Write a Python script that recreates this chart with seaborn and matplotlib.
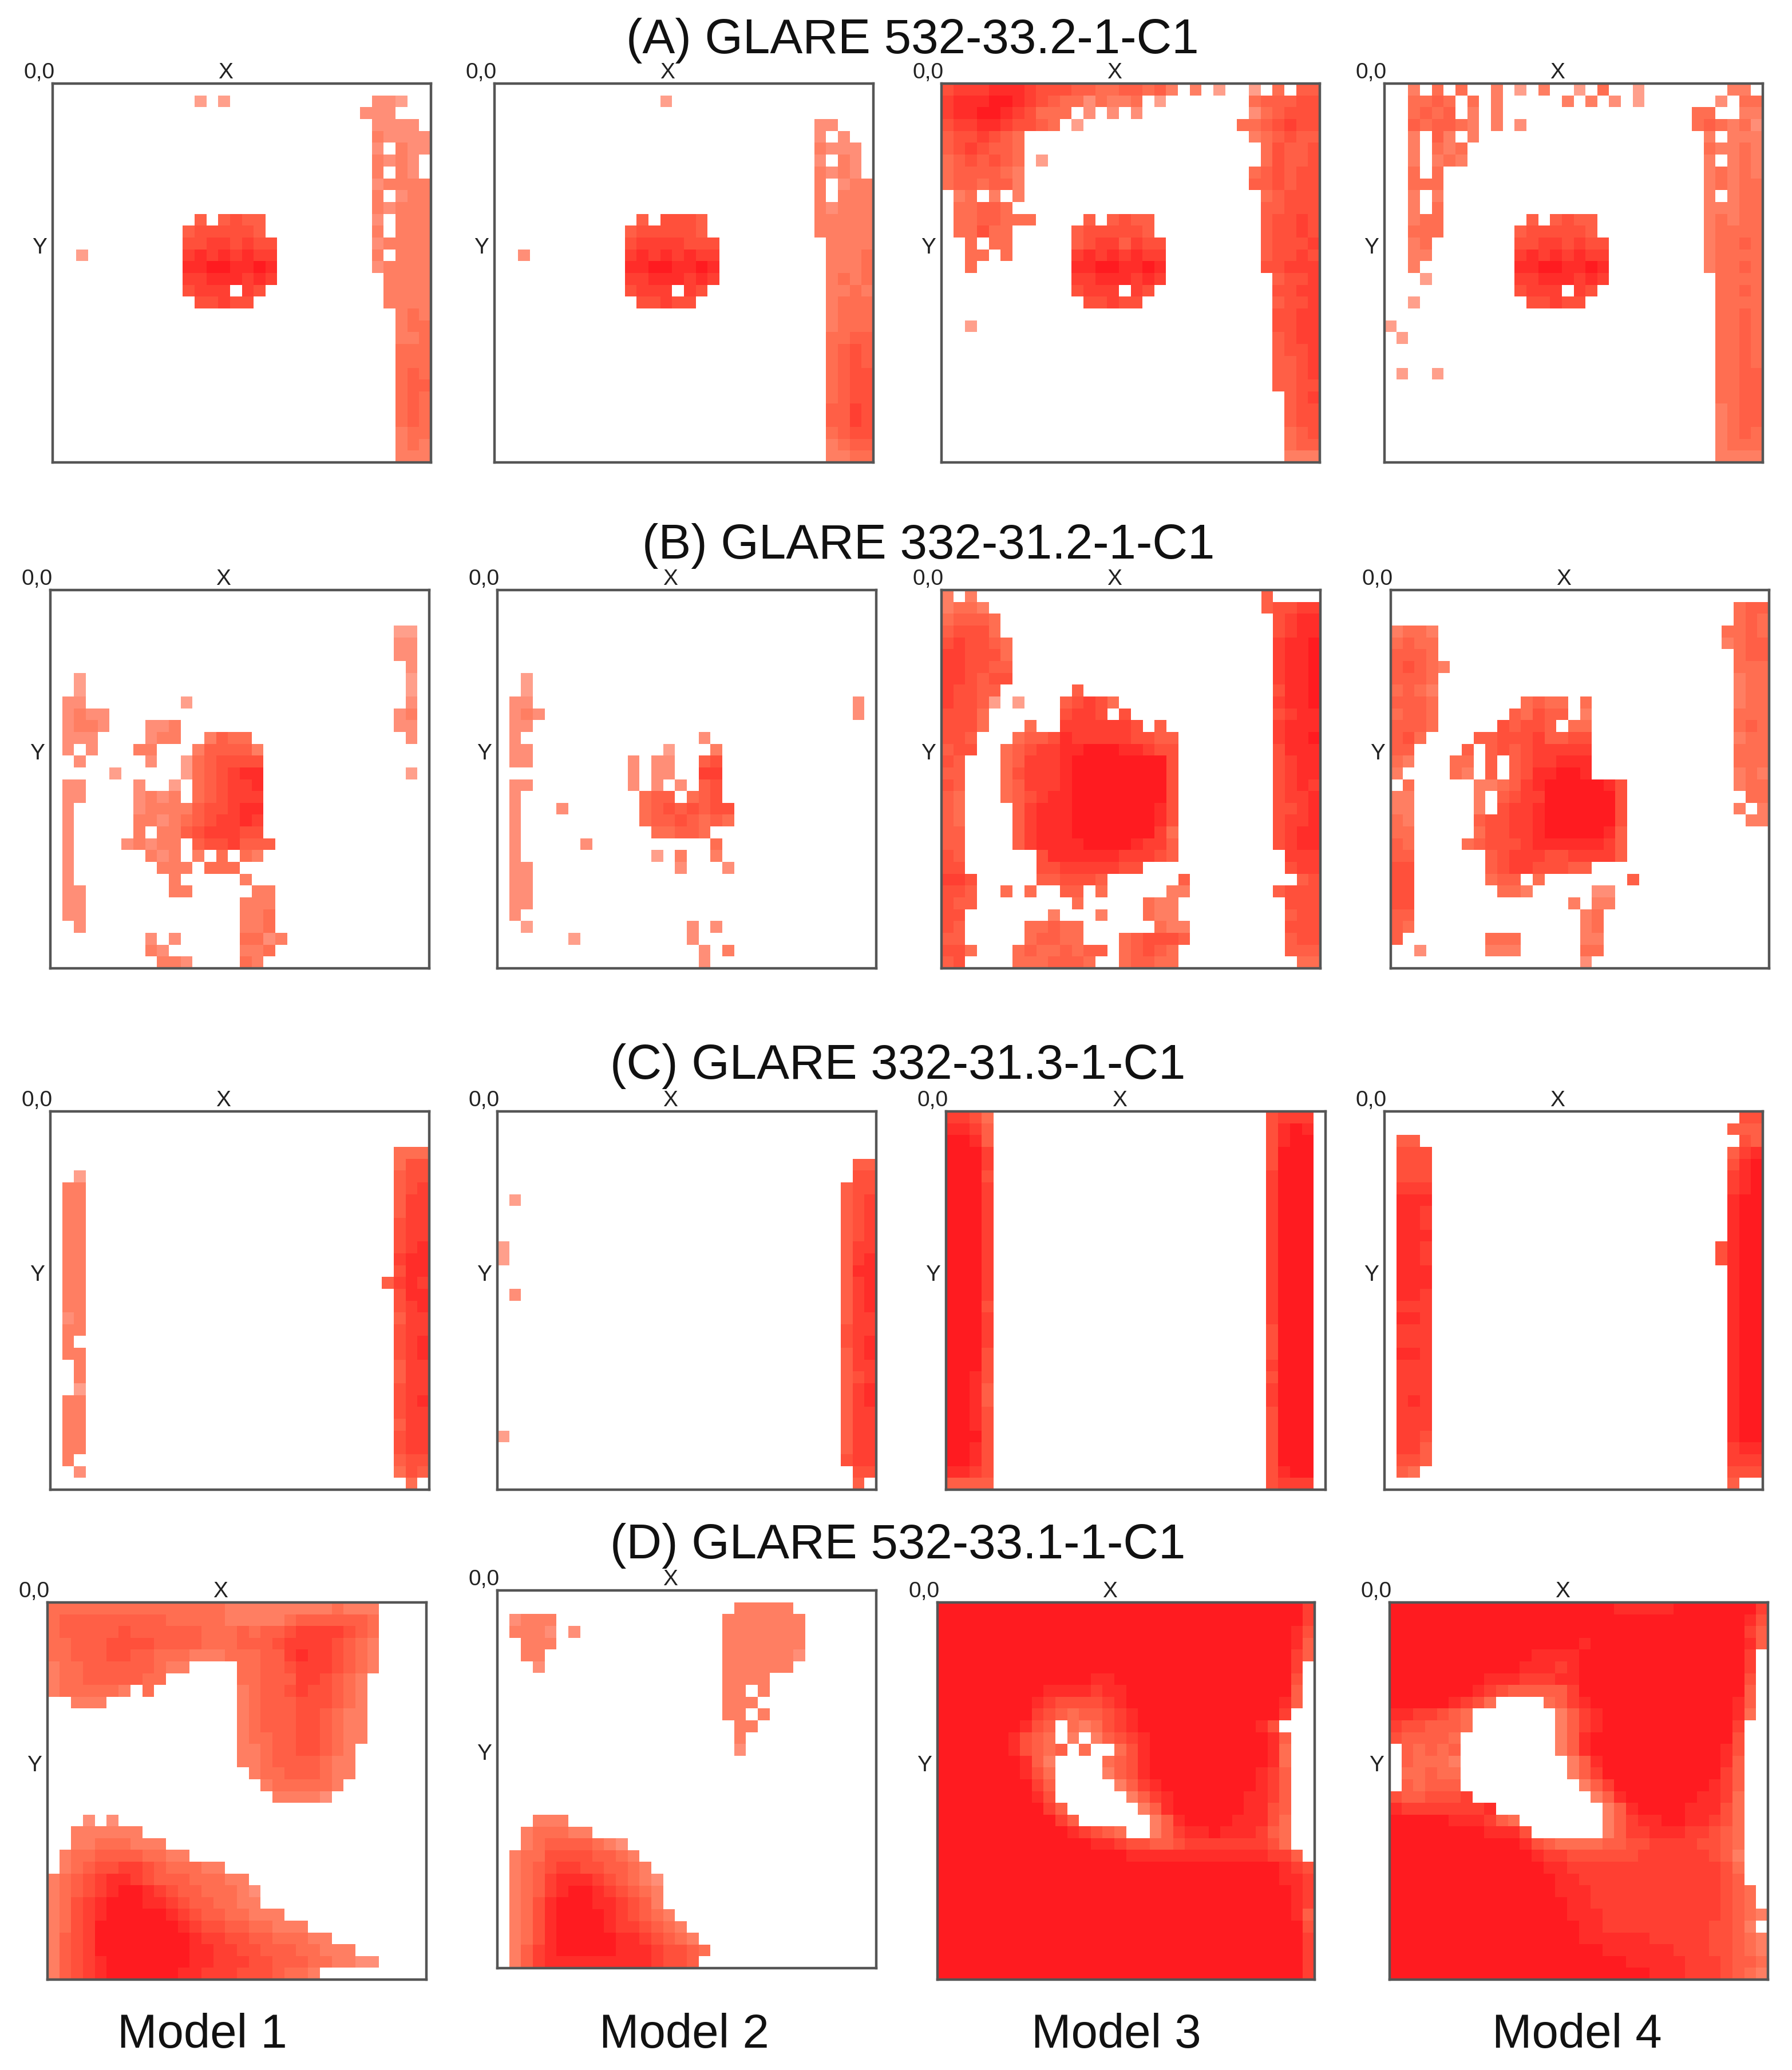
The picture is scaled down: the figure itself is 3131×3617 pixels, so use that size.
import numpy as np
import matplotlib
matplotlib.use("Agg")
import matplotlib.pyplot as plt
from matplotlib.colors import LinearSegmentedColormap
import seaborn as sns

TITLES = ["(A) GLARE 532-33.2-1-C1", "(B) GLARE 332-31.2-1-C1",
          "(C) GLARE 332-31.3-1-C1", "(D) GLARE 532-33.1-1-C1"]
MODELS = ["Model 1", "Model 2", "Model 3", "Model 4"]

A1 = ["",
".......... ..1.1..... .......221",
".......... .......... ......222.",
".......... .......... .......222 2",
".......... .......... .......322 22",
".......... .......... .......2.3 22",
".......... .......... .......323 2",
".......... .......... .......3.3 2",
".......... .......... .......233 33",
".......... .......... .......3.2 33",
".......... .......... .......323 33",
".......... ..5.5655.. .......2.3 33",
".......... .5666665.. .......3.3 33",
".......... .66776766. .......233 33",
"..1....... .78787877. .......3.3 33",
".......... .88998898. .......233 33",
".......... .77888787. ........33 33",
".......... .6777.76.. ........33 33",
".......... ..66766... ........33 33",
".......... .......... .........3 43",
".......... .......... .........3 44",
".......... .......... .........3 34",
".......... .......... .........4 44",
".......... .......... .........4 44",
".......... .......... .........4 54",
".......... .......... .........4 55",
".......... .......... .........4 54",
".......... .......... .........4 54",
".......... .......... .........4 54",
".......... .......... .........3 44",
".......... .......... .........3 43",
".......... .......... .........3 33"]

A2 = ["",
".......... ....1..... ..........",
"",
".......... .......... .......22.",
".......... .......... .......2.2 ",
".......... .......... .......322 2",
".......... .......... .......2.3 2",
".......... .......... .......323 2",
".......... .......... .......3.2 33",
".......... .......... .......3.3 33",
".......... .......... .......323 33",
".......... ..5.6665.. .......333 33",
".......... .5666665.. .......333 33",
".......... .67777666. ........33 33",
"..2....... .78787877. ........33 34",
".......... .88998898. ........33 34",
".......... .77888787. ........34 34",
".......... .6777.76.. ........33 43",
".......... ..66766... ........34 44",
".......... .......... ........34 44",
".......... .......... ........34 44",
".......... .......... ........44 55",
".......... .......... ........45 65",
".......... .......... ........45 65",
".......... .......... ........45 66",
".......... .......... ........45 66",
".......... .......... ........45 66",
".......... .......... ........55 76",
".......... .......... ........55 76",
".......... .......... ........45 66",
".......... .......... ........34 55",
".......... .......... ........33 44"]

A3 = [
"6777888766 6554455453 .3.1..1.4. 5566666666 6",
"7888998765 4424334.1. ......4555 6666666666 6",
"7889987644 4.2.2.2... ......2456 6666666666",
"6778876654 .1........ .....44567 6666665555",
"5667654... .......... ......3456 5555555555",
"5676554... .......... .......465 5666666666",
"4565654.1. .......... .......465 5666666666",
"4555543... .......... ......4565 6666666666",
"4554553... .......... ......5565 6666666666",
".34.3.3... .......... .......456 6666666666",
".44554.... .......... .......556 6666666666",
".4455444.. ..5.5655.. .......566 7666666666",
".44644.... .5666665.. .......566 7666666666",
"..4.44.... .56775766. .......566 6766666666",
"..44.4.... .78787877. .......566 7676666666",
"..4....... .88998898. .......667 7766666666",
".......... .77888787. ........56 6766666666",
".......... .6777.76.. ........66 7766666666",
".......... ..66766... ........56 6776666666",
".......... .......... ........66 7776666666",
"..1....... .......... ........66 7776666666",
".......... .......... ........56 7766666666",
".......... .......... ........56 6766666666",
".......... .......... ........55 6766666666",
".......... .......... ........55 6776666666",
".......... .......... ........55 6676666666",
".......... .......... .........5 6776666666",
".......... .......... .........5 6676666666",
".......... .......... .........5 6666666666",
".......... .......... .........4 5655555555",
".......... .......... .........4 5554444444",
".......... .......... .........3 3333333333"]
A3 = [s.replace(" ", "")[:32] for s in A3]

A4 = [
"..3.4.4..3 .1.3..1.4. .1....... 33",
"..4454.4.3 .....3.3.2 .1......2. 443",
"..4545.3.3 .......... ......44.. 33",
"..545543.3 .2........ ......4543 42",
"..3.53.3.. .......... .......3.3 33",
"..3.434... .......... .......433 43",
"..3.343... .......... .......3.3 43",
"..4.4..... .......... .......343 43",
"..444..... .......... .......343 44",
"..3.3..... .......... .......3.3 44",
"..3.4..... .......... .......333 44",
"..344..... ..5.5655.. .......343 44",
"..444..... .5666665.. .......344 44",
"..34...... .66776766. .......344 54",
"..33...... .78787877. .......344 44",
"..3....... .88998898. .......344 54",
"...1...... .77888787. ........44 44",
".......... .6777.76.. ........44 54",
"..1....... ..66766... ........44 44",
".......... .......... ........44 54",
"1......... .......... ........44 54",
".1........ .......... ........44 54",
".......... .......... ........44 54",
".......... .......... ........44 54",
".1..1..... .......... ........44 55",
".......... .......... ........44 55",
".......... .......... ........44 55",
".......... .......... ........34 55",
".......... .......... ........34 55",
".......... .......... ........34 54",
".......... .......... ........34 44",
".......... .......... ........33 33"]

B1 = ["", "", "",
".......... .......... .........1 1",
".......... .......... .........2 2",
".......... .......... .........2 2",
".......... .......... .......... 2",
"..1....... .......... .......... 1",
"..1....... .......... .......... 1",
".22....... .1........ .......... 2",
".2322..... .......... .........2 3",
".2332...22 3......... .........2 2",
".222....23 3..3544... .......... 2",
".2.2...33. ..355553..",
"..2.....2. .1456666..",
".....1.... .1456788.. .......... 1",
".22....2.. 1.456778..",
".22....232 3.456777..",
".2.....233 33566788..",
".2.....332 34567787..",
".2.....3.3 35677766..",
".2....2323 3.5667555.",
".2......32 3.3.4.43..",
".2.......3 33.444....",
".2........ 3.....3...",
".22....... 33.....33.",
".22....... ......333.",
".22....... ......334.",
"..2....... ......334.",
"........2. 2.....4423",
"........32 ......334.",
".........3 32....43.."]

B2 = ["", "", "", "", "", "", "",
"..1.......",
"..1.......",
".22....... .......... .......... 2",
".232...... .......... .......... 2",
".22.......",
".2........ .......2..",
".22....... ....1...3.",
".22....... .2.22..56.",
".......... .2.22..77.",
".22....... .2.2.2.56.",
".2........ ..455.456.",
".2...2.... ..45656566",
".2........ ..45565454",
".2........ ...44554..",
".2.....2.. ........4.",
".2........ ...1.3..3.",
".22....... .....2...2",
".22.......",
".22.......",
".22.......",
".2........",
"..1....... ......2.2.",
"......1... ......2...",
".......... .......2.3",
".......... .......2.."]

B3 = [
"3.3....... .......... .......5.. ",
"3443...... .......... .......566 7777",
"45554..... .......... ........67 8888",
"56664..... .......... ........67 8888",
"676654.... .......... ........78 8999",
"776664.... .......... ........78 8999",
"776655.... .......... ........78 8999",
"776566.... .......... ........78 8999",
"76655..... .5........ ........68 8989",
"76651.1... 56764..... ........78 8989",
"6664...... 6776.6.... ........67 8888",
"6664...4.. 7777776.5. ........78 8888",
"665...4556 8777776655 ........78 8989",
"566..45677 8899988766 ........68 8888",
"65...45777 8999999996 ........67 8888",
"55...46777 8999999996 ........67 8888",
"65...45777 8999999996 ........67 8787",
"54...45678 8999999996 ........67 7878",
"54....5788 8999999986 ........66 7878",
"54....5788 8999999986 ........67 7878",
"55....5788 8999999974 ........67 8888",
"55....5788 8899998775 ........67 8888",
"65......68 8888877765 .........7 7777",
"66......66 7777766... .........6 7777",
"776.....55 6665...... 5......... 5666",
"665..4.4.. 55.4.....3 3.......5 6666",
"655....... .4.....433 .........6 6666",
"66.......3 ...3...433 .........5 6666",
"65.....445 44......43 3........6 6666",
"55.....455 44...45666 5........5 6666",
"664...4544 5455.45654 .........5 5555",
"56....4445 554..45544 ..........4 444"]

B4 = ["",
".......... .......... .........4 55",
".......... .......... .........4 54",
"3443...... .......... ........44 54",
"4544...... .......... ........34 55",
"5554...... .......... .........4 55",
"56543..... .......... .........4 44",
"5554...... .......... .........3 44",
"4543...... .......... .........3 44",
"5554...... .4544.4... .........3 44",
"4554...... 54655.3... .........4 44",
"5554.....6 5665.44... .........4 54",
"564....556 6675566... .........3 44",
"55....5.56 5677777... .........4 44",
"43...44.5. 5677888... .........4 44",
"3....43.5. 5688998... .........3 43",
".4.....334 5789999986 .........3 44",
"33.....3.5 6779999996 .......... 44",
"33.....3.6 7789999996 .........3 .3",
"43.....566 7789999996 .......... 33",
"44.....466 7789999985",
"54....4566 6788888875",
"55......56 7776677775",
"66......56 7766655...",
"66......45 5.4....... 5",
"66.......4 43.....22",
"66........ .....3.33.",
"55........ ......34..",
"54........ ......34..",
"5.......44 4.....33..",
"..2.....33 3.....44..",
".......... ......2.."]

C1 = ["", "", "",
".......... .......... .........4 44",
".......... .......... .........4 66",
"..1....... .......... .........5 66",
".33....... .......... .........5 67",
".33....... .......... .........5 77",
".33....... .......... .........5 77",
".33....... .......... .........6 77",
".33....... .......... .........6 77",
".33....... .......... .........6 78",
".33....... .......... .........7 88",
".33....... .......... .........6 88",
".33....... .......... ........57 87",
".33....... .......... .........6 88",
".33....... .......... .........6 78",
".23....... .......... .........5 77",
".33....... .......... .........6 77",
".3........ .......... .........6 78",
".33....... .......... .........6 78",
"..3....... .......... .........5 77",
"..3....... .......... .........5 77",
"..1....... .......... .........6 77",
".33....... .......... .........6 78",
".33....... .......... .........6 77",
".33....... .......... .........5 77",
".33....... .......... .........6 77",
".33....... .......... .........6 77",
".3........ .......... .........5 66",
"..2....... .......... .........4 65",
".......... .......... .......... 4"]

C2 = ["", "", "", "",
".......... .......... .......... 55",
".......... .......... .......... 66",
".......... .......... .........5 66",
".1........ .......... .........5 67",
".......... .......... .........5 67",
".......... .......... .........5 67",
".......... .......... .........5 67",
"1......... .......... .........5 77",
"1......... .......... .........5 78",
".......... .......... .........5 88",
".......... .......... .........5 78",
".2........ .......... .........5 78",
".......... .......... .........5 78",
".......... .......... .........5 77",
".......... .......... .........6 77",
".......... .......... .........6 78",
".......... .......... .........5 78",
".......... .......... .........5 77",
".......... .......... .........5 67",
".......... .......... .........5 78",
".......... .......... .........5 78",
".......... .......... .........5 77",
".......... .......... .........5 77",
"1......... .......... .........5 77",
".......... .......... .........5 77",
".......... .......... .........6 77",
".......... .......... .......... 66",
".......... .......... .......... 5"]

C3 = [
"7764...... .......... .......677 7",
"8875...... .......... .......689 8",
"9985...... .......... .......689 9",
"9997...... .......... .......699 9",
"9997...... .......... .......699 9",
"9996...... .......... .......799 9",
"9997...... .......... .......799 9",
"9997...... .......... .......799 9",
"9997...... .......... .......799 9",
"9997...... .......... .......799 9",
"9997...... .......... .......799 9",
"9997...... .......... .......799 9",
"9997...... .......... .......799 9",
"9997...... .......... .......799 9",
"9997...... .......... .......799 9",
"9997...... .......... .......799 9",
"9996...... .......... .......799 9",
"9997...... .......... .......799 9",
"9997...... .......... .......699 9",
"9997...... .......... .......699 9",
"9996...... .......... .......699 9",
"9996...... .......... .......799 9",
"9986...... .......... .......699 9",
"9985...... .......... .......799 9",
"9985...... .......... .......799 9",
"9986...... .......... .......699 9",
"9986...... .......... .......699 9",
"9996...... .......... .......699 9",
"9986...... .......... .......699 9",
"9986...... .......... .......699 9",
"8876...... .......... .......689 9",
"5555...... .......... .......677 7"]

C4 = [
".......... .......... .......... 66",
".......... .......... .........5 55",
".55....... .......... .......... 65",
".666...... .......... .........5 78",
".666...... .......... .........6 89",
".666...... .......... .........7 89",
".777...... .......... .........7 89",
".888...... .......... .........8 99",
".887...... .......... .........8 99",
".887...... .......... .........8 99",
".888...... .......... .........8 99",
".887...... .......... ........68 99",
".887...... .......... ........68 99",
".888...... .......... .........8 99",
".888...... .......... .........8 99",
".887...... .......... .........8 99",
".777...... .......... .........8 99",
".887...... .......... .........8 99",
".777...... .......... .........8 99",
".777...... .......... .........8 99",
".887...... .......... .........8 99",
".777...... .......... .........8 99",
".777...... .......... .........8 99",
".777...... .......... .........8 99",
".787...... .......... .........8 99",
".777...... .......... .........8 99",
".777...... .......... .........8 99",
".776...... .......... .........8 99",
".775...... .......... .........7 88",
".665...... .......... .........7 77",
".54....... .......... .........6 66",
".......... .......... .........5 "]

D1 = [
"4444444444 4444433333 33334333",
"4555555555 4444433333 45555554",
"4555556555 5554445455 67777654",
"4455566665 5554445556 77776543",
"4455566554 4433344455 78776543",
"3445555554 33....4455 67776543",
"3445555544 ......4455 5776543",
"3444443.4. ......3455 6766543",
"..333..... ......3455 5666543",
".......... ......3455 5665433",
".......... ......3455 5665433",
".......... ......3445 5665433",
".......... ......3345 566543",
".......... ......3345 555433",
".......... .......344 555433",
".......... ........34 44443",
".......... .........3 3332",
"",
"...2.2....",
"..333333..",
"..33444333",
".344555544 33",
".345667765 44433",
"3456788765 5544433",
"3456789987 65544432",
"3467899988 76554433.",
"3467899999 8765544333 .",
"3467999999 9876655443 33",
"3567999999 9987766554 4433",
"3567999999 9988776655 544333",
"3567899999 9988777665 55443322",
"3567899999 9887776665 443."]

D2 = ["",
".......... .......... 33333",
".2333..... .........3 333333",
".3332.2... .........3 333333",
"..333..... .........3 333333",
"..33...... .........3 333332",
"...2...... .........3 33333",
".......... .........3 333",
".......... .........3 3.3",
".......... .........3 33.",
".......... .........3 3.3",
".......... .......... 33",
".......... .......... 3.",
".......... .......... 2",
"", "", "", "", "",
"...333....",
"..344433..",
"..34555543 2",
".344666655 43",
".345677665 543",
".345788876 5432",
".345789987 6543",
".346899988 7653",
".346899998 76543",
".346899998 776543",
".346899999 8876543.",
".357899999 88876654",
".357888888 8887665"]

D3 = [
"9999999999 9999999999 9999999999 97",
"9999999999 9999999999 9999999999 97",
"9999999999 9999999999 9999999999 86",
"9999999999 9999999999 9999999999 85",
"9999999999 9999999999 9999999999 75",
"9999999999 9999999999 9999999999 7",
"9999999999 9998899999 9999999999 6",
"9999999998 8887889999 9999999999 5",
"9999999987 6666789999 9999999998 5",
"9999999976 5455678999 9999999997 ",
"9999999865 .43467899 9999999986 ",
"9999998654 .3.3567899 9999999985 ",
"9999998654 5.4..46899 9999999984 ",
"9999999853 ....456899 9999999984 ",
"9999999864 ....356899 9999999875 ",
"9999999975 .....35789 9999999875 ",
"9999999986 ......3578 9999998875 ",
"9999999997 5......358 9999998865 ",
"9999999999 75......35 8999988864 ",
"9999999999 987654..35 7889888754 ",
"9999999999 9998876655 6777777764 ",
"9999999999 9999998888 8888888877 5",
"9999999999 9999999999 9999999998 76",
"9999999999 9999999999 9999999998 87",
"9999999999 9999999999 9999999999 87",
"9999999999 9999999999 9999999999 87",
"9999999999 9999999999 9999999999 85",
"9999999999 9999999999 9999999999 96",
"9999999999 9999999999 9999999999 97",
"9999999999 9999999999 9999999999 97",
"9999999999 9999999999 9999999999 97",
"9999999999 9999999999 9999999999 97"]

D4 = [
"9999999999 9999999998 8888999999 97",
"9999999999 9999999999 9999999999 86",
"9999999999 9999999999 9999999999 75",
"9999999999 9999998999 9999999999 85",
"9999999999 9988889999 9999999999 7",
"9999999999 9888789999 9999999999 7",
"9999999988 8777889999 9999999999 6",
"9999999876 5555579999 9999999999 5",
"999998764. ...4578999 9999999998 5",
"8877654... ....357899 9999999998 4",
"7665554... ....357899 9999999997 ",
"655554.... ....358999 9999999996 ",
".54545.... ....358999 9999999986 ",
".54443.... .....35899 9999999985 ",
".44544.... .....35799 9999999975 ",
".54555.... ......3579 9999999875 ",
"6556667... .......358 9999998874 ",
"877777778. ........35 8999988864 ",
"9999988875 4.......35 7889988764 ",
"9999999988 86......35 7788877654 ",
"9999999999 9865444455 6677776654 ",
"9999999999 9987766666 6777777653 ",
"9999999999 9998877777 7777777764 ",
"9999999999 9999887777 7777777765 ",
"9999999999 9999888777 7777777765 4",
"9999999999 9999988777 7777777765 4",
"9999999999 9999988877 7777777765 43",
"9999999999 9999998877 7777777665 3",
"9999999999 9999998888 8877777665 43",
"9999999999 9999999988 8888777665 43",
"9999999999 9999999999 8888877765 543",
"9999999999 9999999999 9988877765 43"]

PANELS = [[A1, A2, A3, A4], [B1, B2, B3, B4], [C1, C2, C3, C4], [D1, D2, D3, D4]]

# layout in reference pixels: left, top, right, bottom
BOXES = [
    [(92, 146, 753, 808), (864, 146, 1526, 808), (1645, 146, 2306, 808), (2419, 146, 3080, 808)],
    [(88, 1031, 750, 1692), (869, 1031, 1531, 1692), (1645, 1031, 2307, 1692), (2430, 1031, 3091, 1692)],
    [(88, 1942, 750, 2603), (869, 1942, 1531, 2603), (1653, 1942, 2316, 2603), (2419, 1942, 3080, 2603)],
    [(83, 2800, 745, 3459), (869, 2779, 1531, 3439), (1638, 2800, 2297, 3459), (2428, 2800, 3089, 3459)],
]
TITLE_POS = [(1594, 71), (1622, 954), (1569, 1863), (1569, 2701)]
MODEL_POS = [(353, 3556), (1195, 3556), (1950, 3556), (2755, 3556)]

W, H = 3131, 3617
sns.set_theme(style="white")
plt.rcParams["font.family"] = ["Liberation Sans", "DejaVu Sans"]
fig = plt.figure(figsize=(W / 100, H / 100), dpi=100, facecolor="white")
cmap = LinearSegmentedColormap.from_list("heat", ["#FF9F8B", "#FF7355", "#FF4B38", "#FF1B20"])


def to_grid(rows, n=32):
    grid = np.zeros((n, n))
    for i, row in enumerate(rows):
        row = row.replace(" ", "")[:n]
        for j, ch in enumerate(row):
            if ch != ".":
                grid[i, j] = int(ch)
    return grid


for r, row_panels in enumerate(PANELS):
    for c, rows in enumerate(row_panels):
        l, t, rt, b = BOXES[r][c]
        ax = fig.add_axes([l / W, 1 - b / H, (rt - l) / W, (b - t) / H])
        grid = to_grid(rows)
        sns.heatmap(grid, mask=grid == 0, cmap=cmap, vmin=1, vmax=9, cbar=False,
                    xticklabels=False, yticklabels=False, ax=ax)
        for s in ax.spines.values():
            s.set_visible(True)
            s.set_color("#555555")
            s.set_linewidth(3.2)
        dx = 23 / (rt - l)
        dy = 19 / (rt - l)
        ax.text(-dx, 1 + dy, "0,0", transform=ax.transAxes, ha="center", va="center", fontsize=28, color="#222222")
        ax.text(0.457, 1 + dy, "X", transform=ax.transAxes, ha="center", va="center", fontsize=28, color="#222222")
        ax.text(-dx, 0.567, "Y", transform=ax.transAxes, ha="center", va="center", fontsize=28, color="#222222")

for txt, (x, y) in zip(TITLES, TITLE_POS):
    fig.text(x / W, 1 - y / H, txt, ha="center", va="center", fontsize=61.5, color="#111111")
for txt, (x, y) in zip(MODELS, MODEL_POS):
    fig.text(x / W, 1 - y / H, txt, ha="center", va="center", fontsize=60, color="#111111")

fig.savefig("out.png", dpi=100, facecolor="white")
